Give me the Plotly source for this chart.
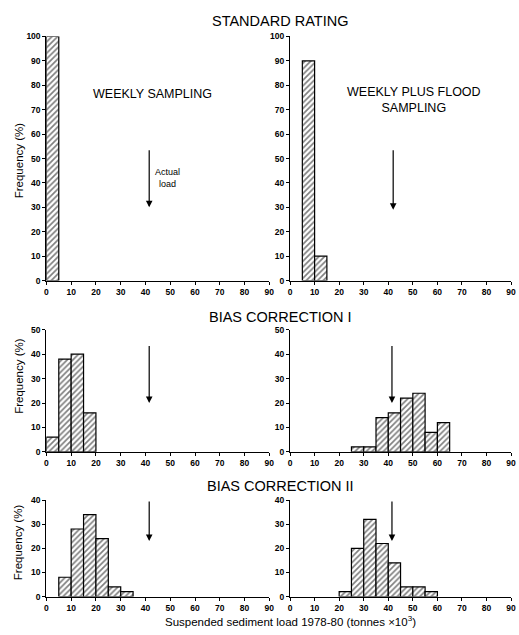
import plotly.graph_objects as go

# ---- data (bin start of each 5-unit class, frequency %) ----
bin_width = 5
tl_bins = [0]
tl_freq = [100]
tr_bins = [5, 10]
tr_freq = [90, 10]
ml_bins = [0, 5, 10, 15]
ml_freq = [6, 38, 40, 16]
mr_bins = [25, 30, 35, 40, 45, 50, 55, 60]
mr_freq = [2, 2, 14, 16, 22, 24, 8, 12]
bl_bins = [5, 10, 15, 20, 25, 30]
bl_freq = [8, 28, 34, 24, 4, 2]
br_bins = [20, 25, 30, 35, 40, 45, 50, 55]
br_freq = [2, 20, 32, 22, 14, 4, 4, 2]

actual_load = 41.5
x_ticks = [0, 10, 20, 30, 40, 50, 60, 70, 80, 90]
y_max = [100, 100, 50, 50, 40, 40]

panel_titles = ["STANDARD RATING", "BIAS CORRECTION I", "BIAS CORRECTION II"]
x_title = "Suspended sediment load 1978-80 (tonnes \u00d710<sup>3</sup>)"
y_title = "Frequency (%)"

W, H = 519, 635
FONT = "Liberation Sans, Arial, sans-serif"

panels = [
    (tl_bins, tl_freq), (tr_bins, tr_freq),
    (ml_bins, ml_freq), (mr_bins, mr_freq),
    (bl_bins, bl_freq), (br_bins, br_freq),
]

# pixel layout
x_dom_px = [(45, 271), (292, 516)]
y_dom_px = [(32, 280), (330, 454), (503, 601)]

fig = go.Figure()
layout = dict(
    width=W, height=H, margin=dict(l=0, r=0, t=0, b=0),
    paper_bgcolor="white", plot_bgcolor="white", showlegend=False,
    font=dict(family=FONT, color="black"),
)

for i, (bins, freq) in enumerate(panels):
    n = i + 1
    row, col = i // 2, i % 2
    xs = "x" if n == 1 else f"x{n}"
    ys = "y" if n == 1 else f"y{n}"
    fig.add_trace(go.Bar(
        x=[b + bin_width / 2 for b in bins], y=freq, width=bin_width,
        xaxis=xs, yaxis=ys,
        marker=dict(color="white", line=dict(color="black", width=1.2),
                    pattern=dict(shape="/", fgcolor="black", bgcolor="white",
                                 size=4, solidity=0.42)),
        hoverinfo="skip",
    ))
    xd = x_dom_px[col]
    yd = y_dom_px[row]
    layout["xaxis" if n == 1 else f"xaxis{n}"] = dict(
        domain=[xd[0] / W, xd[1] / W], range=[0, 90], anchor=ys,
        tickvals=x_ticks, ticks="outside", ticklen=3, tickwidth=1, tickcolor="black",
        showline=True, linecolor="black", linewidth=1.2, showgrid=False, zeroline=False,
        tickfont=dict(size=8.5, family=FONT, color="black", weight="bold"),
        fixedrange=True,
    )
    layout["yaxis" if n == 1 else f"yaxis{n}"] = dict(
        domain=[1 - yd[1] / H, 1 - yd[0] / H], range=[0, y_max[i]], anchor=xs,
        dtick=10, ticks="outside", ticklen=3, tickwidth=1, tickcolor="black",
        showline=True, linecolor="black", linewidth=1.2, showgrid=False, zeroline=False,
        tickfont=dict(size=8.5, family=FONT, color="black", weight="bold"),
        fixedrange=True,
    )

annotations = []
# arrows for actual load: (panel, x, tail y, head y)
arrows = [(1, 41.5, 54, 30), (2, 42, 54, 29), (3, 41.5, 44, 20), (4, 41.5, 44, 20),
          (5, 41.5, 40, 23), (6, 41.5, 40, 23)]
for n, xa, yt, yh in arrows:
    xs = "x" if n == 1 else f"x{n}"
    ys = "y" if n == 1 else f"y{n}"
    annotations.append(dict(
        xref=xs, yref=ys, axref=xs, ayref=ys, x=xa, y=yh, ax=xa, ay=yt,
        text="", showarrow=True, arrowhead=2, arrowsize=1.1, arrowwidth=1.2,
        arrowcolor="black"))

annotations += [
    dict(xref="x", yref="y", x=43, y=76.6, text="WEEKLY SAMPLING", showarrow=False,
         font=dict(size=12.5, family=FONT)),
    dict(xref="x", yref="y", x=49, y=42, text="Actual<br>load", showarrow=False,
         font=dict(size=9, family=FONT)),
    dict(xref="x2", yref="y2", x=50.6, y=74, text="WEEKLY PLUS FLOOD<br>SAMPLING",
         showarrow=False, font=dict(size=12.5, family=FONT)),
]

title_y_px = [16, 317, 489]
for t, yp in zip(panel_titles, title_y_px):
    annotations.append(dict(xref="paper", yref="paper", x=282 / W, y=1 - yp / H,
                            text=t, showarrow=False, font=dict(size=14.5, family=FONT),
                            xanchor="center", yanchor="middle"))

annotations.append(dict(xref="paper", yref="paper", x=292 / W, y=1 - 626 / H,
                        text=x_title, showarrow=False, font=dict(size=11.5, family=FONT),
                        xanchor="center", yanchor="middle"))

for yc in [158, 377, 546]:
    annotations.append(dict(xref="paper", yref="paper", x=17 / W, y=1 - yc / H,
                            text=y_title, textangle=-90, showarrow=False,
                            font=dict(size=11.5, family=FONT),
                            xanchor="center", yanchor="middle"))

layout["annotations"] = annotations
fig.update_layout(**layout)
fig.write_html("out.html")
